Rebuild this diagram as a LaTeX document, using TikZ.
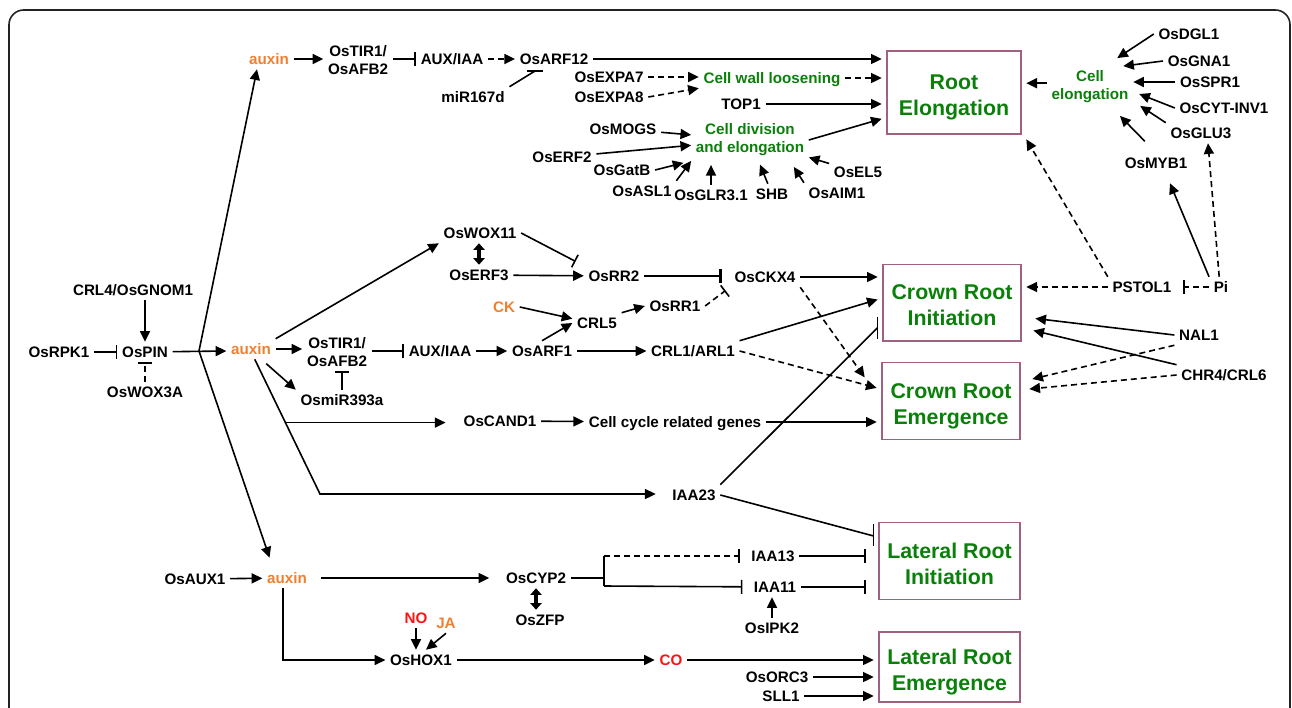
\documentclass[tikz,border=0pt]{standalone}
\usepackage{fontspec}
\setmainfont{Liberation Sans}
\usetikzlibrary{arrows.meta}

\definecolor{auxorange}{RGB}{240,128,48}
\definecolor{procgreen}{RGB}{10,128,10}
\definecolor{signalred}{RGB}{250,20,20}
\definecolor{boxmauve}{RGB}{160,96,128}
\definecolor{framegray}{RGB}{35,35,35}

\begin{document}
\begin{tikzpicture}[x=0.75pt, y=-0.75pt, line width=1.2pt,
	gene/.style={font=\bfseries\fontsize{11.4}{13.5}\selectfont, inner sep=3pt, text height=8.2pt, text depth=0pt},
	gene2/.style={font=\bfseries\fontsize{11.4}{13.5}\selectfont, inner sep=3pt, align=center},
	hormone/.style={gene, text=auxorange},
	signal/.style={gene, text=signalred},
	process/.style={gene, text=procgreen},
	process2/.style={gene2, text=procgreen},
	outcome/.style={draw=boxmauve, line width=1pt, text=procgreen, align=center,
		font=\bfseries\fontsize{16}{19.5}\selectfont, text height=35pt, text depth=0pt,
		minimum width=103.5pt, minimum height=57.5pt, outer sep=4pt},
	act/.style={-{Triangle[length=8pt,width=7.5pt]}},
	inh/.style={-{Bar[width=10.5pt]}},
	dual/.style={line width=2.8pt, arrows={Triangle[length=5pt,width=8.5pt]-Triangle[length=5pt,width=8.5pt]}},
	weak/.style={dash pattern=on 4.5pt off 3pt}]
	\useasboundingbox (0,0) rectangle (1292,707);
	%frame
	\draw[framegray, line width=1.2pt, rounded corners=11pt] (9,10) rectangle (1290,740);

	%outcomes
	\node[outcome, minimum width=100.5pt, minimum height=62.25pt] (relong) at (954,92.5) {Root\\Elongation};
	\node[outcome] (cri) at (952,302.5) {Crown Root\\Initiation};
	\node[outcome] (cre) at (951,401) {Crown Root\\Emergence};
	\node[outcome, minimum width=105.75pt] (lri) at (949.5,561) {Lateral Root\\Initiation};
	\node[outcome, minimum width=105.75pt, minimum height=52.5pt] (lre) at (949.5,667) {Lateral Root\\Emergence};

	%upper auxin branch
	\node[hormone] (auxA) at (269,59) {auxin};
	\node[gene2] (tirA) at (358,60) {OsTIR1/\\OsAFB2};
	\node[gene] (iaaA) at (452,59) {AUX/IAA};
	\node[gene] (arf12) at (554,59) {OsARF12};
	\node[gene] (mir167) at (473,97) {miR167d};
	\coordinate (mirbar) at (535,71);
	\draw[act] (auxA) -- (tirA.west |- auxA);
	\draw[inh] (tirA.east |- iaaA) -- (iaaA);
	\draw[act, weak] (iaaA) -- (arf12);
	\draw (mir167.north east) -- (mirbar);
	\draw ([shift={(-8,0)}]mirbar) -- ([shift={(8,0)}]mirbar);
	\draw[act] (arf12) -- (relong.west |- arf12);

	\node[gene] (expa7) at (609,77) {OsEXPA7};
	\node[gene] (expa8) at (609,97) {OsEXPA8};
	\node[process] (cwl) at (772,78) {Cell wall loosening};
	\node[gene] (top1) at (741,104) {TOP1};
	\draw[act, weak] (expa7) -- (cwl.west |- expa7);
	\draw[act, weak] (expa8.east) -- (cwl.south west);
	\draw[act, weak] (cwl) -- (relong.west |- cwl);
	\draw[act] (top1) -- (relong.west |- top1);

	%cell division
	\node[process2] (cdiv) at (750,140) {Cell division\\and elongation};
	\node[gene] (mogs) at (623,129) {OsMOGS};
	\node[gene] (erf2) at (562,157) {OsERF2};
	\node[gene] (gatb) at (622,170) {OsGatB};
	\node[gene] (asl1) at (642,191) {OsASL1};
	\node[gene] (glr) at (711,195) {OsGLR3.1};
	\node[gene] (shb) at (772,194) {SHB};
	\node[gene] (aim1) at (837,193) {OsAIM1};
	\node[gene] (el5) at (858,172) {OsEL5};
	\draw[act] (cdiv.east) -- (relong.200);
	\foreach \g in {mogs, erf2, el5}
		\draw[act] (\g) -- (cdiv);
	\draw[act, shorten >=6pt] (gatb.east) -- (cdiv.south west);
	\draw[act] (asl1.north east) -- (cdiv.south west);
	\draw[act, shorten >=3pt] (glr) -- (glr |- cdiv.south);
	\draw[act, shorten >=3pt] (shb) -- (cdiv);
	\draw[act] (aim1.north west) -- ([shift={(-15,6)}]cdiv.south east);

	%cell elongation
	\node[process2] (celong) at (1090,87) {Cell\\elongation};
	\node[gene] (dgl1) at (1189,34) {OsDGL1};
	\node[gene] (gna1) at (1199,61) {OsGNA1};
	\node[gene] (spr1) at (1210,82) {OsSPR1};
	\node[gene] (cytinv) at (1224,108) {OsCYT-INV1};
	\node[gene] (glu3) at (1201,133) {OsGLU3};
	\node[gene] (myb1) at (1156,163) {OsMYB1};
	\draw[act] (celong.175) -- (relong.east |- celong.175);
	\draw[act] (dgl1.west) -- ([shift={(-16,-8)}]celong.north east);
	\draw[act] (gna1.west) -- ([shift={(-10,0)}]celong.north east);
	\draw[act] (spr1) -- (celong.east |- spr1);
	\draw[act] (cytinv.west) -- ([shift={(6,7)}]celong.east);
	\draw[act] (glu3.north west) -- ([shift={(7,-2)}]celong.south east);
	\draw[act, shorten <=12pt] (myb1.north) -- ([shift={(30,8)}]celong.south);

	%phosphate
	\node[gene] (pstol) at (1142,287) {PSTOL1};
	\node[gene] (pi) at (1221,287) {Pi};
	\draw[inh, weak, shorten >=5pt] (pi) -- (pstol);
	\draw[act, weak] (pstol) -- (cri.east |- pstol);
	\draw[act, weak] (pstol.north west) -- (relong.south east);
	\draw[act] (pi.north west) -- ([shift={(14,10)}]myb1.south);
	\draw[act, weak] (pi.100) -- ([shift={(7,0)}]glu3.south);

	\node[gene] (nal1) at (1199,335) {NAL1};
	\node[gene] (chr4) at (1224,375) {CHR4/CRL6};
	\draw[act] (nal1.west) -- ([shift={(9,16)}]cri.east);
	\draw[act] (chr4.north west) -- ([shift={(7,28)}]cri.east);
	\draw[act, weak] (nal1.south west) -- ([shift={(7,-22)}]cre.east);
	\draw[act, weak] (chr4.west) -- ([shift={(4,-12)}]cre.east);

	%auxin transport
	\node[gene] (crl4) at (133,290) {CRL4/OsGNOM1};
	\node[gene] (rpk1) at (59,352) {OsRPK1};
	\node[gene] (pin) at (145,352) {OsPIN};
	\node[gene] (wox3a) at (145,392) {OsWOX3A};
	\node[hormone] (auxB) at (251,349) {auxin};
	\coordinate (split) at (199,351);
	\draw[act] (crl4.south -| pin) -- (pin);
	\draw[inh] (rpk1) -- (pin);
	\draw[inh, weak] (wox3a) -- (pin);
	\draw[act] (pin) -- (auxB.west |- split);
	\draw[act] (split) -- ([shift={(-12,0)}]auxA.south);

	%crown root branch
	\node[gene2] (tirB) at (337,352) {OsTIR1/\\OsAFB2};
	\node[gene] (iaaB) at (440,351) {AUX/IAA};
	\node[gene] (mir393) at (342,400) {OsmiR393a};
	\node[gene] (wox11) at (480,233) {OsWOX11};
	\node[gene] (erf3) at (479,275) {OsERF3};
	\node[gene] (rr2) at (614,276) {OsRR2};
	\node[gene] (ckx4) at (765,277) {OsCKX4};
	\node[hormone] (ck) at (504,307) {CK};
	\node[gene] (crl5) at (597,323) {CRL5};
	\node[gene] (rr1) at (675,306) {OsRR1};
	\node[gene] (arf1) at (542,351) {OsARF1};
	\node[gene] (crl1) at (693,351) {CRL1/ARL1};
	\draw[act] (auxB) -- (tirB.west |- auxB);
	\draw[inh] (tirB.east |- iaaB) -- (iaaB);
	\draw[act, shorten <=5pt] (auxB.-45) -- (mir393.north west);
	\draw[inh] (mir393.north) -- (mir393.north |- tirB.south);
	\draw[act] (auxB.north east) -- (wox11.south west);
	\draw[dual] (wox11.south -| erf3) -- (erf3);
	\draw[inh, shorten >=7pt] (wox11.east) -- (rr2.north west);
	\draw[act] (erf3) -- (rr2);
	\draw[inh, line width=1.9pt, shorten >=6pt] (rr2) -- (rr2 -| ckx4.west);
	\draw[inh, weak, shorten >=4pt] (rr1.east) -- (ckx4.south west);
	\draw[act] (ck.east) -- (crl5.170);
	\draw[act] (arf1.north) -- (crl5.west);
	\draw[act] (crl5.north east) -- (rr1.west);
	\draw[act] (iaaB) -- (arf1);
	\draw[act] (arf1) -- (crl1);
	\draw[act] (ckx4) -- (cri.west |- ckx4);
	\draw[act, weak] (ckx4.south east) -- ([shift={(-12,20)}]cre.north west);
	\draw[act] (crl1.north east) -- ([shift={(0,-3)}]cri.west);
	\draw[act, weak] (crl1.east) -- (cre.170);

	%cell cycle and IAA23
	\node[gene] (cand1) at (500,421) {OsCAND1};
	\node[gene] (ccg) at (675,422) {Cell cycle related genes};
	\node[gene] (iaa23) at (694,495) {IAA23};
	\coordinate (bend) at (320,494);
	\draw[act, shorten >=9pt] (auxB.-70) -- coordinate[pos=0.47] (fork) (bend) -- (iaa23.west |- bend);
	\draw[act, shorten >=10pt] (fork) -- (cand1.west |- fork);
	\draw[act] (cand1) -- (ccg);
	\draw[act] (ccg) -- (cre.west |- ccg);
	\draw (iaa23.north east) -- ([shift={(0,25)}]cri.west);
	\draw ([shift={(0,14)}]cri.west) -- ([shift={(0,36)}]cri.west);
	\draw (iaa23.east) -- ([shift={(0,-25)}]lri.west);
	\draw ([shift={(0,-37)}]lri.west) -- ([shift={(0,-15)}]lri.west);

	%lateral root branch
	\node[hormone] (auxC) at (287,578) {auxin};
	\node[gene] (aux1) at (195,579) {OsAUX1};
	\node[gene] (cyp2) at (536,578) {OsCYP2};
	\node[gene] (zfp) at (540,620) {OsZFP};
	\node[gene] (iaa13) at (773,556) {IAA13};
	\node[gene] (iaa11) at (775,587) {IAA11};
	\node[gene] (ipk2) at (772,628) {OsIPK2};
	\node[gene] (hox1) at (421,660) {OsHOX1};
	\node[signal] (no) at (416,618) {NO};
	\node[hormone] (ja) at (446,623) {JA};
	\node[signal] (co) at (671,660) {CO};
	\node[gene] (orc3) at (777,677) {OsORC3};
	\node[gene] (sll1) at (781,696) {SLL1};
	\coordinate (forkT) at (604,556);
	\coordinate (forkB) at (604,586);
	\draw[act, shorten >=8pt] (split) -- ([shift={(-14,0)}]auxC.north);
	\draw[act] (aux1) -- (auxC);
	\draw[act, shorten <=7pt, shorten >=9pt] (auxC) -- (cyp2);
	\draw[dual] (cyp2.south) -- (cyp2.south |- zfp.north);
	\draw[line width=1.6pt] (cyp2.east) -- (cyp2.east -| forkT) (forkT) -- (forkB);
	\draw[inh, weak, shorten >=5pt] (forkT) -- (iaa13);
	\draw[inh, shorten >=5pt] (forkB) -- (iaa11);
	\draw[inh, shorten >=6pt] (iaa13) -- (lri.west |- iaa13);
	\draw[inh, shorten >=6pt] (iaa11) -- (lri.west |- iaa11);
	\draw[act] (ipk2) -- (ipk2 |- iaa11.south);
	\draw[act] ([shift={(-4,0)}]auxC.south) |- (hox1);
	\draw[act] (no) -- (no |- hox1.north);
	\draw[act] (ja.south) -- ([shift={(5,0)}]hox1.north);
	\draw[act] (hox1) -- (co);
	\draw[act] (co) -- (lre.west |- co);
	\draw[act] (orc3) -- (lre.west |- orc3);
	\draw[act] (sll1) -- (lre.west |- sll1);
\end{tikzpicture}
\end{document}
